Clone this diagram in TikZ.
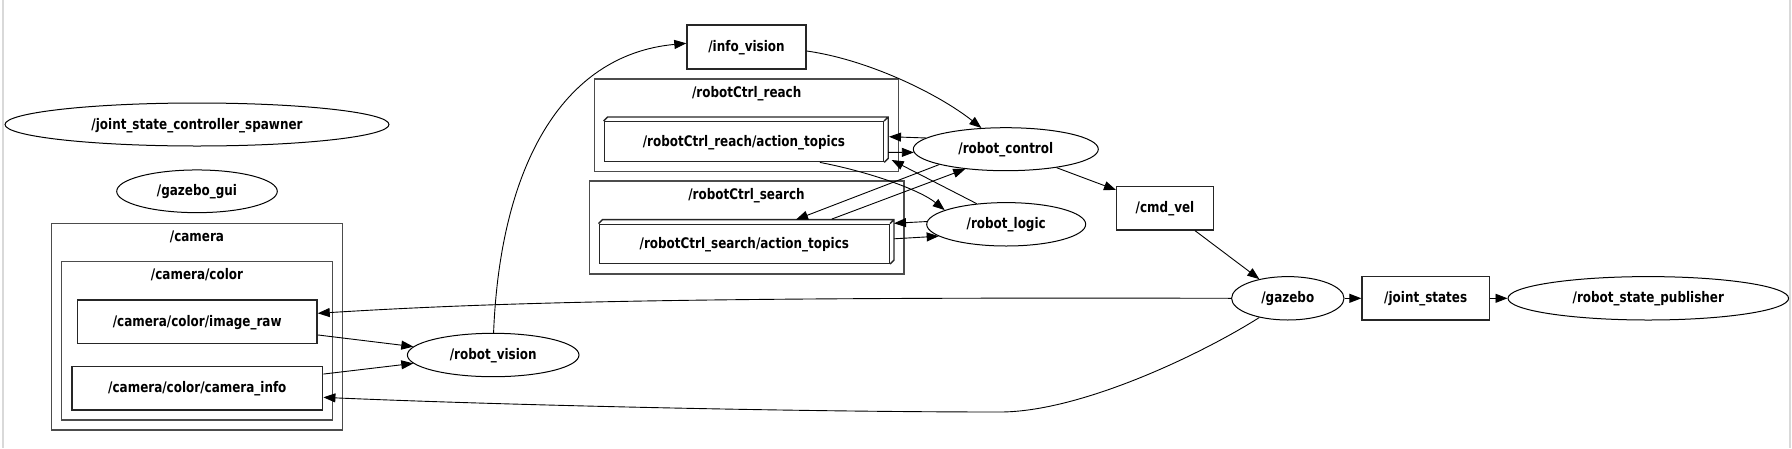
\documentclass[tikz,border=0pt]{standalone}
\usepackage{fontspec}
\usetikzlibrary{arrows.meta,shapes.geometric}
\newfontfamily\lblfont{DejaVu Sans}[FakeStretch=0.82]
\tikzset{
  lbl/.style={font=\lblfont\bfseries\fontsize{14.6}{16}\selectfont, text=black, text height=1.1em, text depth=0.2em},
  ell/.style={ellipse, draw=black, line width=1pt, inner sep=0pt, lbl},
  topic/.style={rectangle, draw=black!85, line width=1.4pt, inner sep=0pt, lbl},
  cluster/.style={rectangle, draw=black!70, line width=1.2pt, inner sep=0pt},
  clabel/.style={inner sep=0pt, lbl},
  edge/.style={draw=black, line width=0.9pt, -{Triangle[length=12pt,width=9pt]}},
  boxline/.style={draw=black!85, line width=1.4pt},
  framel/.style={draw=black!15, line width=1.5pt}
}
\begin{document}
\begin{tikzpicture}[x=1pt,y=-1pt]
\useasboundingbox (0,0) rectangle (1792,448);
\draw[framel] (3,0) -- (3,448);
\draw[framel] (1790,0) -- (1790,448);

% free nodes
\node[ell, minimum width=384, minimum height=43] (jscs) at (197,124.5) {/joint\_state\_controller\_spawner};
\node[ell, minimum width=160.6, minimum height=42.7] (ggui) at (197,191.3) {/gazebo\_gui};

% camera clusters
\node[cluster, minimum width=290.6, minimum height=206.7] (camcl) at (197,326.7) {};
\node[clabel] (camlbl) at (197,236.5) {/camera};
\node[cluster, minimum width=271, minimum height=158.3] (colcl) at (197.2,340.85) {};
\node[clabel] (collbl) at (197,275) {/camera/color};
\node[topic, minimum width=239.7, minimum height=43.3] (imgraw) at (197.2,321.65) {/camera/color/image\_raw};
\node[topic, minimum width=250.7, minimum height=43.3] (caminfo) at (197.35,388.35) {/camera/color/camera\_info};

\node[ell, minimum width=171.6, minimum height=43.4] (rvis) at (493.2,355) {/robot\_vision};
\node[topic, minimum width=119, minimum height=44] (infov) at (746.5,47) {/info\_vision};

% robotCtrl clusters
\node[cluster, minimum width=304.4, minimum height=92.7] (reachcl) at (746.5,125.35) {};
\node[clabel] (reachlbl) at (746.7,93) {/robotCtrl\_reach};
\node[topic, minimum width=279.2, minimum height=40] (ra) at (743.9,141.7) {/robotCtrl\_reach/action\_topics};
\draw[boxline] (ra.north west) -- ++(4,-4) -- ([shift={(4,-4)}]ra.north east) -- ([shift={(4,-4)}]ra.south east) -- (ra.south east)
  (ra.north east) -- ++(4,-4);

\node[cluster, minimum width=314.7, minimum height=93] (searchcl) at (746.65,227.5) {};
\node[clabel] (searchlbl) at (746.5,195) {/robotCtrl\_search};
\node[topic, minimum width=290, minimum height=39] (sa) at (744.3,243.8) {/robotCtrl\_search/action\_topics};
\draw[boxline] (sa.north west) -- ++(4,-4) -- ([shift={(4,-4)}]sa.north east) -- ([shift={(4,-4)}]sa.south east) -- (sa.south east)
  (sa.north east) -- ++(4,-4);

\node[ell, minimum width=185, minimum height=43] (rc) at (1005.8,149.2) {/robot\_control};
\node[ell, minimum width=159, minimum height=43.4] (rl) at (1006.2,224.3) {/robot\_logic};
\node[topic, minimum width=96.6, minimum height=43.3] (cmd) at (1165,208.3) {/cmd\_vel};
\node[ell, minimum width=112.4, minimum height=43.4] (gaz) at (1287.8,298.3) {/gazebo};
\node[topic, minimum width=127.3, minimum height=43.3] (js) at (1425.7,298.3) {/joint\_states};
\node[ell, minimum width=280.6, minimum height=43.4] (rsp) at (1648.3,298.3) {/robot\_state\_publisher};

% edges
\draw[edge] (gaz.west) .. controls (700,297) and (500,302) .. ([shift={(0,-8.35)}]imgraw.east);
\draw[edge] (gaz.214) .. controls (1200,355) and (1080,412) .. (1000,412)
  .. controls (800,412) and (500,405) .. ([shift={(0,9)}]caminfo.east);
\draw[edge] ([shift={(0,13.3)}]imgraw.east) -- (rvis.174);
\draw[edge] ([shift={(0,-14.3)}]caminfo.east) -- (rvis.186);
\draw[edge] (rvis.89) .. controls (500,170) and (560,55) .. ([shift={(0,-3.7)}]infov.west);
\draw[edge] ([shift={(0,4)}]infov.east) .. controls (870,60) and (940,95) .. (rc.139);
\draw[edge] (rc.172) -- ([shift={(4.8,-5)}]ra.east);
\draw[edge] ([shift={(4,10.6)}]ra.east) -- (rc.182);
\draw[edge] (rl.145) -- ([shift={(7.5,18.3)}]ra.east);
\draw[edge] ([shift={(76,0)}]ra.south) .. controls (870,172) and (920,190) .. (rl.167);
\draw[edge] (rc.193) -- ([shift={(51.7,-4)}]sa.north);
\draw[edge] ([shift={(87.4,-4.5)}]sa.north) -- (rc.206);
\draw[edge] (rl.178) -- ([shift={(4,-20.5)}]sa.east);
\draw[edge] ([shift={(4,-5)}]sa.east) -- (rl.190);
\draw[edge] (rc.340) -- ([shift={(0,4)}]cmd.north west);
\draw[edge] ([shift={(30,0)}]cmd.south) -- (gaz.146);
\draw[edge] (gaz.east) -- (js.west);
\draw[edge] (js.east) -- (rsp.west);
\end{tikzpicture}
\end{document}
